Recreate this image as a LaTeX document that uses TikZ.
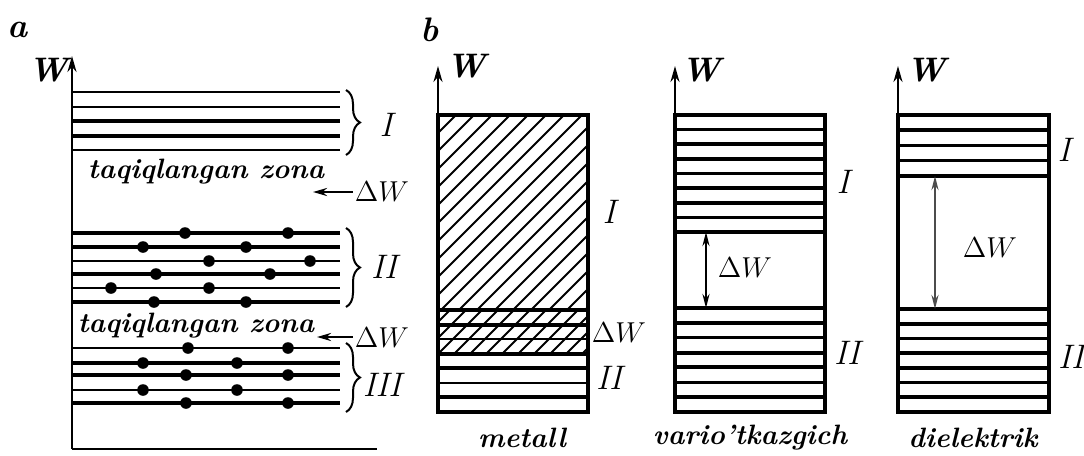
\documentclass[tikz,border=0pt]{standalone}
\usepackage{amsmath}
\usetikzlibrary{arrows.meta,decorations.pathreplacing}
\tikzset{
  lbl/.style={font=\fontsize{14}{16}\selectfont\bfseries\itshape, inner sep=1pt},
  gross/.style={font=\fontsize{17}{19}\selectfont\bfseries\itshape, inner sep=1pt},
  rom/.style={font=\fontsize{17}{19}\selectfont\itshape, inner sep=1pt},
  dw/.style={font=\fontsize{15}{17}\selectfont, inner sep=1pt},
  kasten/.style={line width=2.2pt},
  schraffur/.style={line width=0.9pt},
  achse/.style={line width=1.1pt, -{Stealth[length=8pt,width=4.5pt]}},
  pfeil/.style={line width=1.2pt, -{Stealth[length=7pt,width=4pt]}},
  doppel/.style={line width=1.1pt, {Stealth[length=7pt,width=3.5pt]}-{Stealth[length=7pt,width=3.5pt]}},
  klammer/.style={decorate, decoration={brace,amplitude=7pt}, line width=1pt}
}
\begin{document}
\begin{tikzpicture}[x=0.5pt,y=-0.5pt]
\useasboundingbox (0,0) rectangle (1084,456);

% Teil a: Achsen
\node[gross] (ta) at (18,30) {a};
\coordinate (a0) at (72,449);
\coordinate (aW) at (72,56);
\coordinate (aE) at (377,449);
\draw[achse] (a0) -- (aW);
\draw[line width=1.2pt] (a0) -- (aE);
\node[gross] (Wa) at (48,70) {W};

% Zone I
\foreach \y/\w in {92/1.4, 107/1.2, 121/2.0, 136/2.0, 150/1.3}
  \draw[line width=\w pt] (72,\y) -- (340,\y);
% Zone II
\foreach \y/\w in {233/2.0, 247/2.0, 261/1.3, 274/2.0, 288/1.3, 302/2.0}
  \draw[line width=\w pt] (72,\y) -- (340,\y);
% Zone III
\foreach \y/\w in {348/1.3, 363/2.0, 375/2.0, 390/1.3, 403/2.0}
  \draw[line width=\w pt] (72,\y) -- (340,\y);

% Elektronen
\foreach \x/\y in {185/233, 288/233, 143/247, 246/247, 209/261, 310/261,
                   156/274, 270/274, 111/288, 209/288, 154/302, 246/302,
                   188/348, 288/348, 143/363, 237/363, 186/375, 288/375,
                   143/390, 237/390, 186/403, 288/403}
  \fill (\x,\y) circle[radius=2.9pt];

% Klammern
\coordinate (kIo) at (346,90);
\coordinate (kIu) at (346,155);
\coordinate (kIIo) at (346,228);
\coordinate (kIIu) at (346,307);
\coordinate (kIIIo) at (346,343);
\coordinate (kIIIu) at (346,412);
\draw[klammer] (kIo) -- (kIu);
\draw[klammer] (kIIo) -- (kIIu);
\draw[klammer] (kIIIo) -- (kIIIu);
\node[rom] (aI) at (386,125) {I};
\node[rom] (aII) at (384,267) {II};
\node[rom] (aIII) at (382,385) {III};

% verbotene Zonen
\node[lbl] (zona1) at (206,172) {taqiqlangan zona};
\node[lbl] (zona2) at (196,326) {taqiqlangan zona};
\node[dw] (dWa1) at (382,192) {$\Delta W$};
\node[dw] (dWa2) at (382,338) {$\Delta W$};
\coordinate (p1) at (313,192);
\coordinate (p2) at (317,337);
\draw[pfeil] (dWa1) -- (p1);
\draw[pfeil] (dWa2.west |- p2) -- (p2);

% Teil b: Metall
\node[gross] (tb) at (430,30) {b};
\coordinate (mW) at (438,66);
\draw[achse] (438,115) -- (mW);
\node[gross] (Wm) at (466,66) {W};
\begin{scope}
  \clip (438,115) rectangle (588,310);
  \foreach \x in {243,261,...,600}
    \draw[schraffur] (\x,310) -- ++(195,-195);
\end{scope}
\begin{scope}
  \clip (438,310) rectangle (588,354);
  \foreach \x in {390,406,...,600}
    \draw[schraffur] (\x,354) -- ++(44,-44);
\end{scope}
\foreach \i/\w in {0/2.0, 1/2.0, 2/1.3, 3/2.0, 4/2.0, 5/1.3, 6/2.0}
  \draw[line width=\w pt] (438,{310+\i*14.57}) -- (588,{310+\i*14.57});
\draw[kasten] (438,115) rectangle (588,412);
\node[rom] (mI) at (609,212) {I};
\node[dw] (mdW) at (619,333) {$\Delta W$};
\node[rom] (mII) at (609,378) {II};
\node[lbl] (metall) at (522,438) {metall};

% Halbleiter
\coordinate (hW) at (675,66);
\draw[achse] (675,115) -- (hW);
\node[gross] (Wh) at (701,70) {W};
\foreach \i/\w in {1/1.3, 2/2.0, 3/2.0, 4/1.3, 5/2.0, 6/2.0, 7/1.3, 8/2.0}
  \draw[line width=\w pt] (675,{115+\i*14.625}) -- (825,{115+\i*14.625});
\foreach \i/\w in {0/2.0, 1/2.0, 2/1.3, 3/2.0, 4/2.0, 5/1.3, 6/2.0}
  \draw[line width=\w pt] (675,{308+\i*14.857}) -- (825,{308+\i*14.857});
\draw[kasten] (675,115) rectangle (825,412);
\coordinate (hO) at (706,232);
\coordinate (hU) at (706,308);
\draw[doppel] (hO) -- (hU);
\node[dw] (hdW) at (745,268) {$\Delta W$};
\node[rom] (hI) at (843,182) {I};
\node[rom] (hII) at (847,353) {II};
\node[lbl] (halb) at (750,438) {vario'tkazgich};

% Dielektrikum
\coordinate (dW) at (898,66);
\draw[achse] (898,115) -- (dW);
\node[gross] (Wd) at (926,70) {W};
\foreach \i/\w in {1/2.0, 2/1.3, 3/1.3, 4/2.0}
  \draw[line width=\w pt] (898,{115+\i*15.25}) -- (1049,{115+\i*15.25});
\foreach \i/\w in {0/2.0, 1/2.0, 2/1.3, 3/2.0, 4/2.0, 5/1.3, 6/2.0}
  \draw[line width=\w pt] (898,{309+\i*14.71}) -- (1049,{309+\i*14.71});
\draw[kasten] (898,115) rectangle (1049,412);
\coordinate (dO) at (935,176);
\coordinate (dU) at (935,309);
\draw[doppel, draw=black!70] (dO) -- (dU);
\node[dw] (ddW) at (990,248) {$\Delta W$};
\node[rom] (dI) at (1064,150) {I};
\node[rom] (dII) at (1071,357) {II};
\node[lbl] (diel) at (973,438) {dielektrik};
\end{tikzpicture}
\end{document}
